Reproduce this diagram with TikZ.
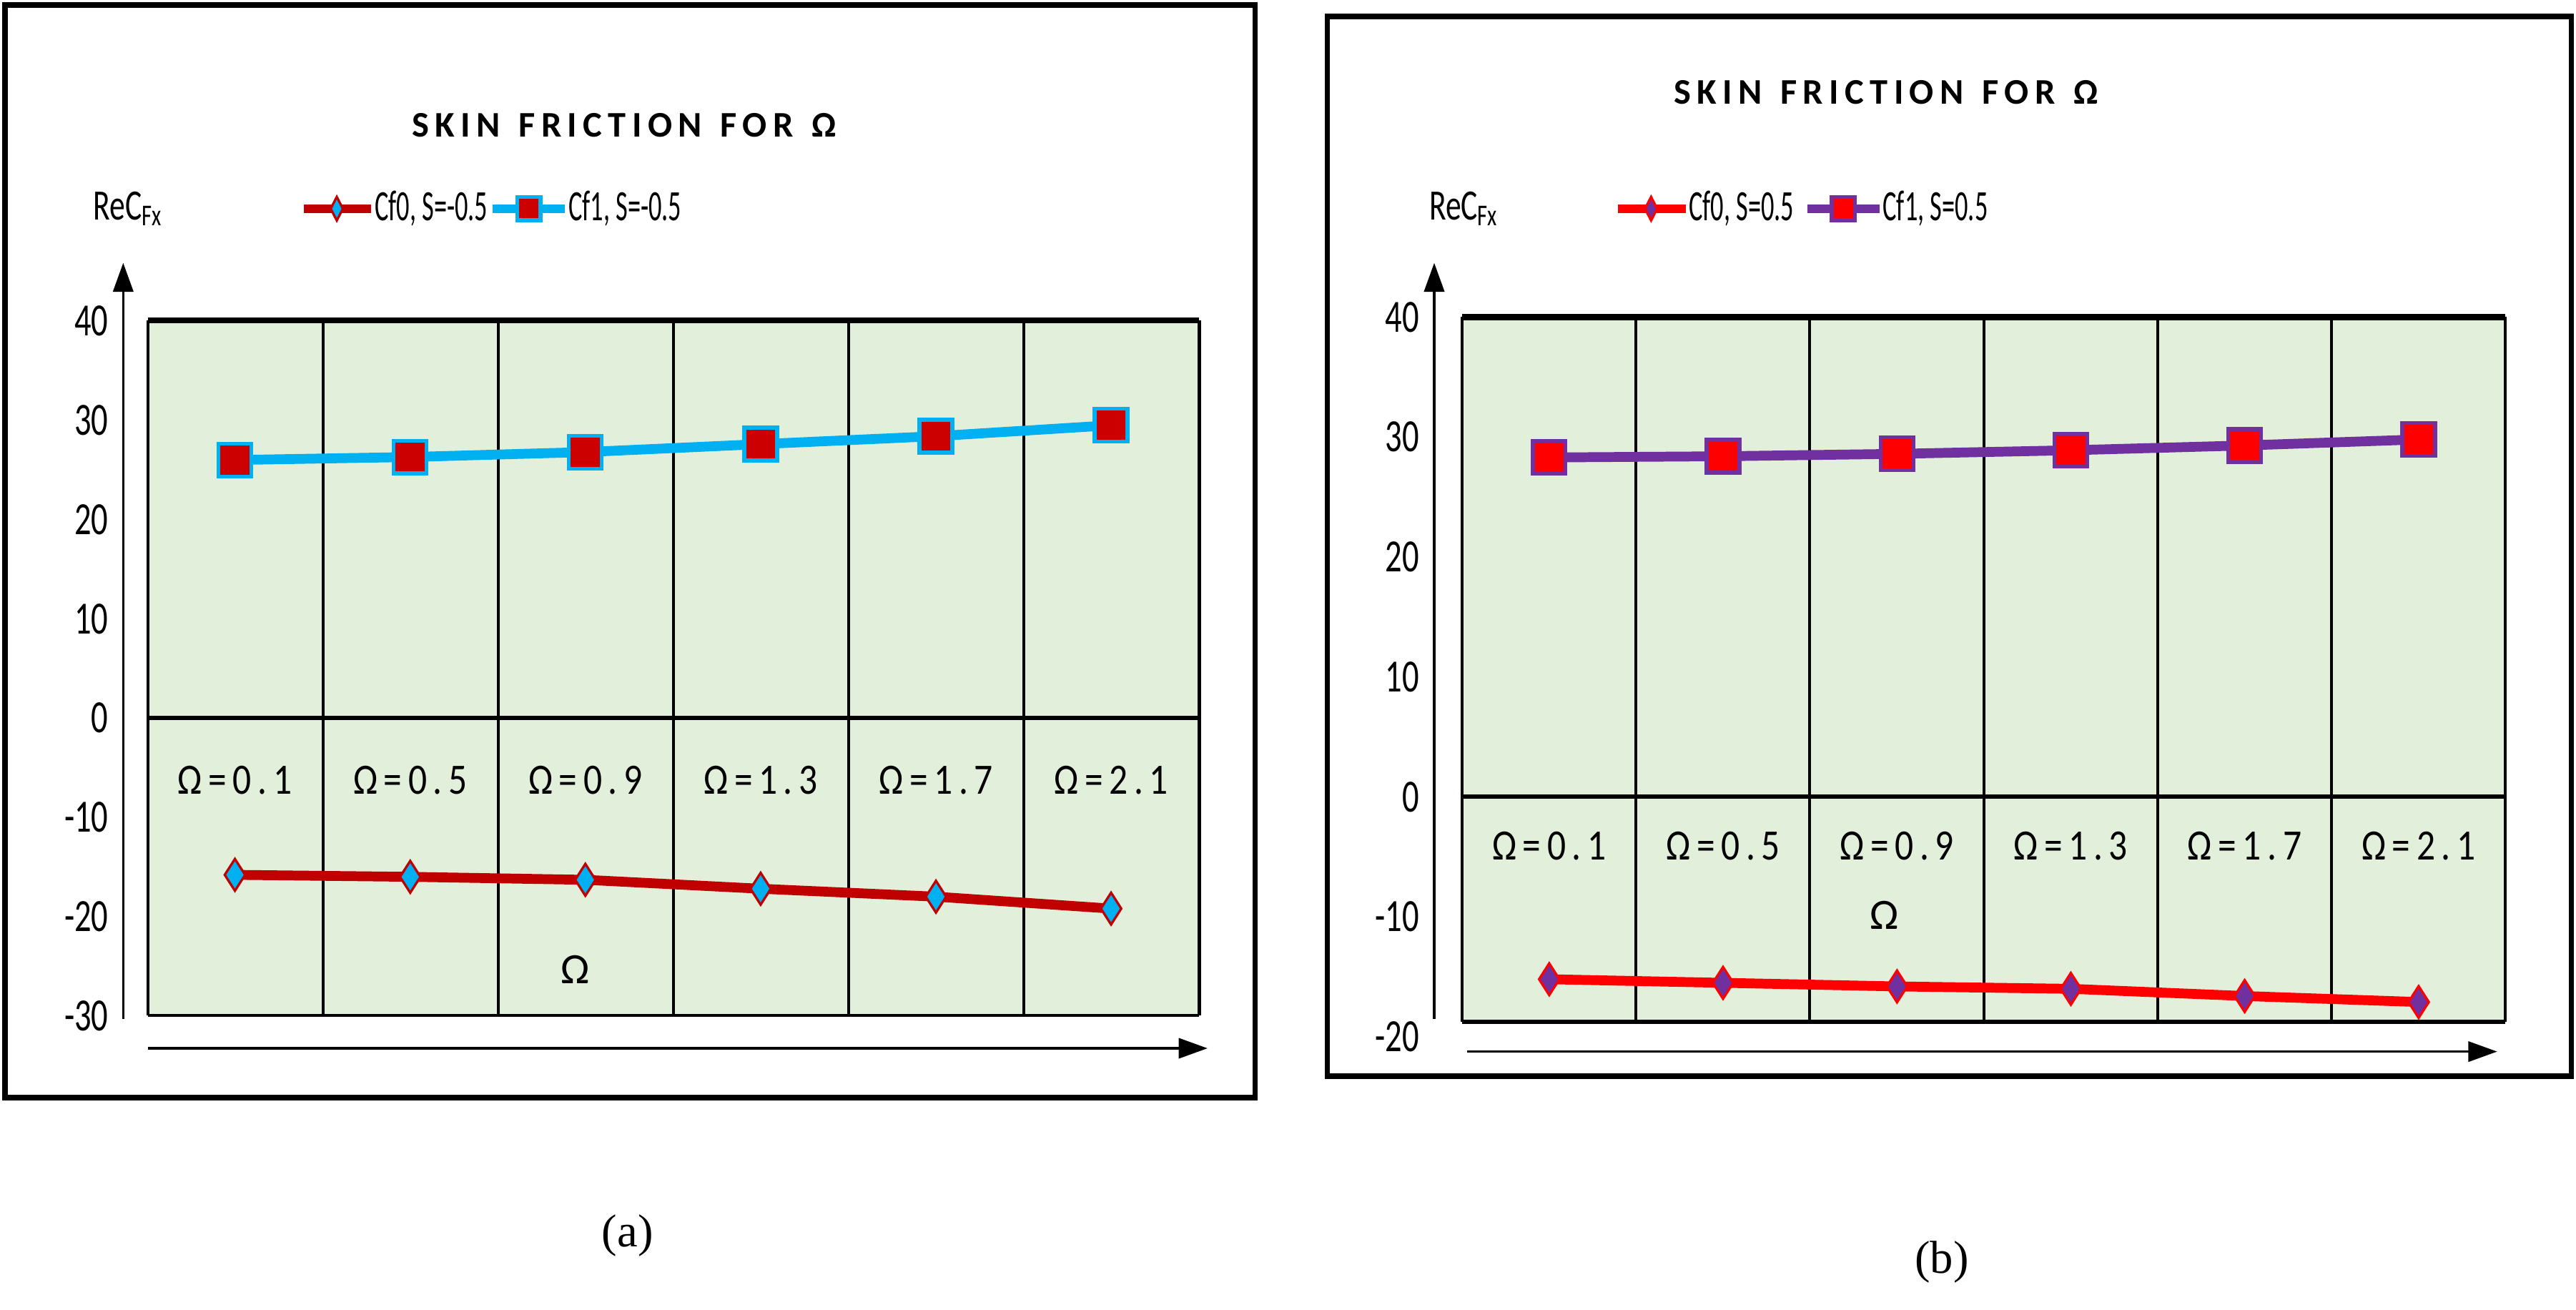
\documentclass[tikz,border=0pt]{standalone}
\usepackage{fontspec}
\setmainfont{Carlito}
\newfontfamily\capfont{Liberation Serif}
\usetikzlibrary{arrows.meta,shapes.geometric}
\definecolor{dred}{HTML}{C00000}
\definecolor{cyanl}{HTML}{00B0F0}
\definecolor{purp}{HTML}{7030A0}
\definecolor{pgreen}{HTML}{E2EFDA}
\newcommand{\cnd}[1]{\scalebox{0.72}[1]{#1}}
\newcommand{\lcnd}[1]{\scalebox{0.6}[1]{#1}}
\tikzset{
 frame/.style={draw=black,line width=1.8pt},
 grid/.style={draw=black,line width=1pt},
 axisarr/.style={line width=0.8pt,-{Triangle[length=10pt,width=7pt]}},
 tick/.style={font=\fontsize{16}{18}\selectfont,anchor=east,inner sep=1pt},
 omg/.style={font=\fontsize{15}{17}\selectfont},
 ttl/.style={font=\bfseries\fontsize{12.5}{14}\selectfont},
 leg/.style={font=\fontsize{15}{17}\selectfont,anchor=west,inner sep=1pt},
 sq/.style={draw=#1,line width=1.3pt,fill=red!80!black,minimum size=0.4cm,inner sep=0pt},
 dia/.style={diamond,draw=#1,line width=0.8pt,minimum width=0.26cm,minimum height=0.4cm,inner sep=0pt},
}
\begin{document}
\begin{tikzpicture}[x=0.02cm,y=-0.02cm]
\useasboundingbox (0,0) rectangle (1568,797);
%%%%%% (a)
\draw[frame] (3,3) rectangle (764,668);
\node[ttl] at (380,76) {S\,K\,I\,N\; F\,R\,I\,C\,T\,I\,O\,N\; F\,O\,R\; Ω};
\node[leg,anchor=center] at (78,127) {\cnd{ReC$_{\mathrm{Fx}}$}};
\draw[dred,line width=3pt] (185,127) -- (226,127);
\node[dia=dred,fill=cyanl,minimum width=0.16cm,minimum height=0.3cm] at (205,127) {};
\node[leg] at (226,127) {\lcnd{Cf0, S=-0.5}};
\draw[cyanl,line width=3pt] (300,127) -- (344,127);
\node[sq=cyanl,minimum size=0.28cm] at (322,127) {};
\node[leg] at (344,127) {\lcnd{Cf1, S=-0.5}};
\fill[pgreen] (90,195) rectangle (730,618);
\foreach \i in {0,...,6} \draw[grid] ({90+106.67*\i},195) -- ({90+106.67*\i},618);
\draw[black,line width=2pt] (90,195) -- (730,195);
\draw[grid] (90,618) -- (730,618);
\draw[black,line width=1.5pt] (90,437) -- (730,437);
\foreach \v in {40,30,...,-30} \node[tick] at (68,{437-6.04*\v}) {\cnd{\v}};
\draw[axisarr] (75,620) -- (75,160);
\draw[axisarr] (90,638) -- (735,638);
\foreach \a/\b [count=\k from 0] in {0/1,0/5,0/9,1/3,1/7,2/1}
 \node[omg] at ({143+106.67*\k},475) {\scalebox{0.85}[1]{Ω\,=\,\a\,.\,\b}};
\node[omg] at (350,590) {Ω};
\draw[cyanl,line width=3.4pt] (143,{437-6.04*26.0}) -- (249.7,{437-6.04*26.3}) -- (356.3,{437-6.04*26.8}) -- (463,{437-6.04*27.6}) -- (569.7,{437-6.04*28.4}) -- (676.3,{437-6.04*29.5});
\foreach \x/\v in {143/26.0,249.7/26.3,356.3/26.8,463/27.6,569.7/28.4,676.3/29.5}
 \node[sq=cyanl] at (\x,{437-6.04*\v}) {};
\draw[dred,line width=3.4pt] (143,{437+6.04*15.8}) -- (249.7,{437+6.04*16.0}) -- (356.3,{437+6.04*16.3}) -- (463,{437+6.04*17.2}) -- (569.7,{437+6.04*18.0}) -- (676.3,{437+6.04*19.2});
\foreach \x/\v in {143/15.8,249.7/16.0,356.3/16.3,463/17.2,569.7/18.0,676.3/19.2}
 \node[dia=dred,fill=cyanl] at (\x,{437+6.04*\v}) {};
\node[font=\capfont\fontsize{16}{18}\selectfont] at (382,752) {(a)};
%%%%%% (b)
\draw[frame] (808,10) rectangle (1565,655);
\node[ttl] at (1148,56) {S\,K\,I\,N\; F\,R\,I\,C\,T\,I\,O\,N\; F\,O\,R\; Ω};
\node[leg,anchor=center] at (891,127) {\cnd{ReC$_{\mathrm{Fx}}$}};
\draw[red,line width=3pt] (985,127) -- (1026,127);
\node[dia=red,fill=purp,minimum width=0.16cm,minimum height=0.3cm] at (1005,127) {};
\node[leg] at (1026,127) {\lcnd{Cf0, S=0.5}};
\draw[purp,line width=3pt] (1100,127) -- (1144,127);
\node[sq=purp,fill=red,minimum size=0.28cm] at (1122,127) {};
\node[leg] at (1144,127) {\lcnd{Cf1, S=0.5}};
\fill[pgreen] (890,193) rectangle (1525,622);
\foreach \i in {0,...,6} \draw[grid] ({890+105.83*\i},193) -- ({890+105.83*\i},622);
\draw[black,line width=2pt] (890,193) -- (1525,193);
\draw[black,line width=1.5pt] (890,622) -- (1525,622);
\draw[black,line width=1.5pt] (890,485) -- (1525,485);
\foreach \v in {40,30,...,-20} \node[tick] at (866,{485-7.3*\v}) {\cnd{\v}};
\draw[axisarr] (873,620) -- (873,160);
\draw[axisarr] (893,640) -- (1520,640);
\foreach \a/\b [count=\k from 0] in {0/1,0/5,0/9,1/3,1/7,2/1}
 \node[omg] at ({943+105.83*\k},515) {\scalebox{0.85}[1]{Ω\,=\,\a\,.\,\b}};
\node[omg] at (1147,557) {Ω};
\draw[purp,line width=3.4pt] (943,{485-7.3*28.3}) -- (1048.8,{485-7.3*28.4}) -- (1154.7,{485-7.3*28.6}) -- (1260.5,{485-7.3*28.9}) -- (1366.3,{485-7.3*29.3}) -- (1472.2,{485-7.3*29.8});
\foreach \x/\v in {943/28.3,1048.8/28.4,1154.7/28.6,1260.5/28.9,1366.3/29.3,1472.2/29.8}
 \node[sq=purp,fill=red] at (\x,{485-7.3*\v}) {};
\draw[red,line width=3.4pt] (943,{485+7.3*15.2}) -- (1048.8,{485+7.3*15.5}) -- (1154.7,{485+7.3*15.8}) -- (1260.5,{485+7.3*16.0}) -- (1366.3,{485+7.3*16.6}) -- (1472.2,{485+7.3*17.1});
\foreach \x/\v in {943/15.2,1048.8/15.5,1154.7/15.8,1260.5/16.0,1366.3/16.6,1472.2/17.1}
 \node[dia=red,fill=purp] at (\x,{485+7.3*\v}) {};
\node[font=\capfont\fontsize{16}{18}\selectfont] at (1182,768) {(b)};
\end{tikzpicture}
\end{document}
